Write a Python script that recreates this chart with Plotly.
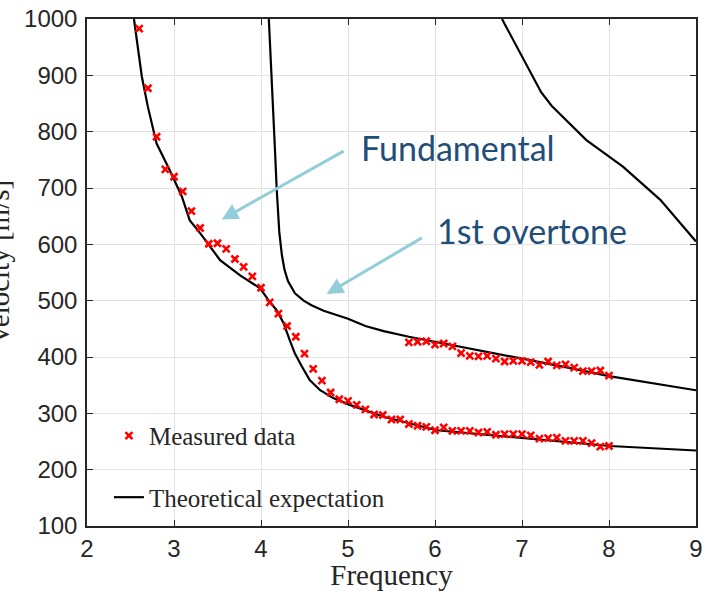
import plotly.graph_objects as go

# ---- data ----
freq_fund = [2.6, 2.7, 2.8, 2.9, 3.0, 3.1, 3.2, 3.3, 3.4, 3.5, 3.6, 3.7, 3.8, 3.9, 4.0,
             4.1, 4.2, 4.3, 4.4, 4.5, 4.6, 4.7, 4.8, 4.9, 5.0, 5.1, 5.2, 5.3, 5.4, 5.5,
             5.6, 5.7, 5.8, 5.9, 6.0, 6.1, 6.2, 6.3, 6.4, 6.5, 6.6, 6.7, 6.8, 6.9, 7.0,
             7.1, 7.2, 7.3, 7.4, 7.5, 7.6, 7.7, 7.8, 7.9, 8.0]
vel_fund = [983, 877, 791, 733, 720, 694, 659, 629, 601, 602, 592, 574, 560, 543, 523,
            497, 477, 455, 436, 406, 379, 358, 337, 325, 322, 315, 307, 298, 297, 289,
            289, 281, 278, 276, 270, 275, 269, 269, 269, 266, 267, 262, 263, 263, 263,
            261, 255, 256, 257, 251, 251, 251, 247, 241, 242]

freq_over = [5.7, 5.8, 5.9, 6.0, 6.1, 6.2, 6.3, 6.4, 6.5, 6.6, 6.7, 6.8, 6.9, 7.0,
             7.1, 7.2, 7.3, 7.4, 7.5, 7.6, 7.7, 7.8, 7.9, 8.0]
vel_over = [426, 427, 428, 422, 424, 419, 407, 402, 401, 402, 397, 392, 393, 393,
            391, 386, 392, 385, 387, 381, 375, 375, 376, 367]

theo_fund_f = [2.54, 2.58, 2.63, 2.70, 2.80, 2.95, 3.09, 3.18, 3.30, 3.53, 3.76, 3.99,
               4.10, 4.18, 4.26, 4.33, 4.39, 4.47, 4.56, 4.68, 4.83, 5.02, 5.41, 6.02,
               7.00, 8.01, 9.0]
theo_fund_v = [1000, 950, 898, 844, 779, 732, 685, 643, 620, 572, 545, 522,
               498, 483, 460, 430, 406, 383, 359, 341, 327, 315, 294, 270,
               256, 242, 234]

theo_over_f = [4.09, 4.12, 4.16, 4.18, 4.21, 4.24, 4.27, 4.31, 4.39, 4.49, 4.58, 4.72,
               4.85, 5.0, 5.2, 5.41, 5.7, 6.0, 6.5, 7.0, 7.5, 8.0, 8.5, 9.0]
theo_over_v = [1000, 889, 770, 699, 622, 581, 555, 535, 513, 500, 492, 482,
               475, 468, 455, 446, 436, 427, 412, 398, 382, 366, 353, 341]

theo_over2_f = [6.77, 7.02, 7.22, 7.34, 7.59, 7.74, 8.16, 8.59, 9.0]
theo_over2_v = [1000, 927, 870, 846, 809, 785, 738, 679, 605]

x_ticks = [2, 3, 4, 5, 6, 7, 8, 9]
y_ticks = [100, 200, 300, 400, 500, 600, 700, 800, 900, 1000]

label_fund = "Fundamental"
label_over = "1st overtone"

# ---- styles ----
AX = "#262626"
GRID = "#e2e2e2"
SERIF = "Liberation Serif"
SANS = "Liberation Sans"
marker_style = dict(symbol="x-thin", size=7, color="red", line=dict(width=2.6, color="red"))
line_style = dict(color="black", width=2.2)

fig = go.Figure()

for i, (fx, vy) in enumerate([(theo_fund_f, theo_fund_v), (theo_over_f, theo_over_v),
                              (theo_over2_f, theo_over2_v)]):
    fig.add_trace(go.Scatter(x=fx, y=vy, mode="lines", line=line_style,
                             name="Theoretical expectation", legendgroup="theo",
                             legendrank=2, showlegend=(i == 0)))

for i, (fx, vy) in enumerate([(freq_fund, vel_fund), (freq_over, vel_over)]):
    fig.add_trace(go.Scatter(x=fx, y=vy, mode="markers", marker=marker_style,
                             name="Measured data", legendgroup="meas",
                             legendrank=1, showlegend=(i == 0)))

axis_common = dict(showline=True, linecolor=AX, linewidth=1.5, mirror="ticks",
                   ticks="inside", ticklen=6, tickcolor=AX, tickwidth=1,
                   showgrid=True, gridcolor=GRID, gridwidth=1, zeroline=False,
                   automargin=False,
                   tickfont=dict(family=SANS, size=24, color=AX))

fig.update_xaxes(range=[2, 9], tickvals=x_ticks, **axis_common,
                 title=dict(text="Frequency", font=dict(family=SERIF, size=29, color=AX),
                            standoff=6))
fig.update_yaxes(range=[100, 1000], tickvals=y_ticks, ticklabelstandoff=3, **axis_common)

# y-axis title, partly off the left edge as in the reference
fig.add_annotation(text="Velocity [m/s]", textangle=-90, xref="paper", yref="paper",
                   x=-0.1435, y=0.52, xanchor="center", yanchor="middle", showarrow=False,
                   font=dict(family=SERIF, size=29, color=AX))

# text labels
fig.add_annotation(text=label_fund, x=5.13, y=772, xref="x", yref="y", xanchor="left",
                   yanchor="middle", showarrow=False,
                   font=dict(family="Lato", size=34, color="#1f4e79"))
fig.add_annotation(text=label_over, x=6.0, y=625, xref="x", yref="y", xanchor="left",
                   yanchor="middle", showarrow=False,
                   font=dict(family="Lato", size=34, color="#1f4e79"))

# arrows
for tip, tail in [((3.548, 644), (4.966, 767)), ((4.755, 512), (5.866, 613))]:
    fig.add_annotation(text="", x=tip[0], y=tip[1], ax=tail[0], ay=tail[1],
                       xref="x", yref="y", axref="x", ayref="y", showarrow=True,
                       arrowhead=2, arrowsize=1.1, arrowwidth=3, arrowcolor="#92cddc",
                       standoff=0)

fig.update_layout(
    width=711, height=591,
    margin=dict(l=87, r=15, t=19, b=65),
    paper_bgcolor="white", plot_bgcolor="white",
    legend=dict(x=0.036, y=0.223, xanchor="left", yanchor="top",
                bgcolor="rgba(0,0,0,0)", borderwidth=0,
                font=dict(family=SERIF, size=25, color=AX),
                tracegroupgap=26, traceorder="grouped"),
)

fig.write_html("out.html", config={"displayModeBar": False},
               post_script="document.body.style.margin='0';document.body.style.overflow='hidden';")
